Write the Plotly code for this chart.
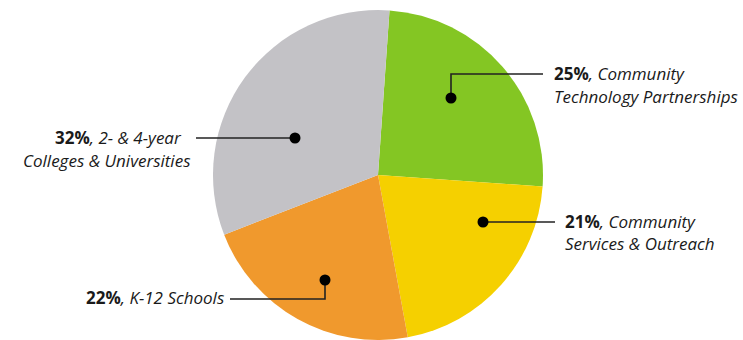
import plotly.graph_objects as go

# Data
categories = ["Community Technology Partnerships", "Community Services & Outreach",
              "K-12 Schools", "2- & 4-year Colleges & Universities"]
values = [25, 21, 22, 32]
colors = ["#84C623", "#F5D000", "#F0992D", "#C3C2C6"]

W, H = 743, 340
def px(x):
    return x / W
def py(y):
    return 1 - y / H

fig = go.Figure(go.Pie(
    labels=categories, values=values, sort=False, direction="clockwise",
    rotation=4, marker=dict(colors=colors, line=dict(width=0)),
    textinfo="none", hoverinfo="label+percent", showlegend=False,
    domain=dict(x=[px(211), px(545)], y=[0, py(10)]),
))

LINE = "#222222"
FONT = dict(family="Open Sans", size=17, color="#1a1a1a")

# leader lines (pixel coords -> paper)
paths = [
    [(196, 138), (295, 138)],                 # gray
    [(543, 74), (451, 74), (451, 98)],        # green
    [(483, 222), (555, 222)],                 # yellow
    [(230, 299), (325, 299), (325, 280)],     # orange
]
shapes = []
for pts in paths:
    d = "M " + " L ".join(f"{px(x)},{py(y)}" for x, y in pts)
    shapes.append(dict(type="path", path=d, xref="paper", yref="paper",
                       line=dict(color=LINE, width=1.6)))
dots = [(295, 138), (451, 98), (483, 222), (325, 280)]
r = 5.5
for x, y in dots:
    shapes.append(dict(type="circle", xref="paper", yref="paper",
                       x0=px(x - r), x1=px(x + r), y0=py(y + r), y1=py(y - r),
                       fillcolor="#000000", line=dict(width=0)))

# labels: (text, x, y, xanchor)
labels = [
    (f"<b>{values[3]}%</b><i>, 2- & 4-year</i>", 184, 137, "right"),
    ("<i>Colleges & Universities</i>", 192, 160, "right"),
    (f"<b>{values[0]}%</b><i>, Community</i>", 552, 73, "left"),
    ("<i>Technology Partnerships</i>", 552, 96, "left"),
    (f"<b>{values[1]}%</b><i>, Community</i>", 563, 221, "left"),
    ("<i>Services & Outreach</i>", 563, 243, "left"),
    (f"<b>{values[2]}%</b><i>, K-12 Schools</i>", 226, 297, "right"),
]
annotations = [dict(text=t, x=px(x), y=py(y), xref="paper", yref="paper",
                    xanchor=a, yanchor="middle", showarrow=False, font=FONT)
               for t, x, y, a in labels]

fig.update_layout(width=W, height=H, margin=dict(l=0, r=0, t=0, b=0),
                  paper_bgcolor="white", plot_bgcolor="white",
                  shapes=shapes, annotations=annotations)

fig.write_html("out.html")
